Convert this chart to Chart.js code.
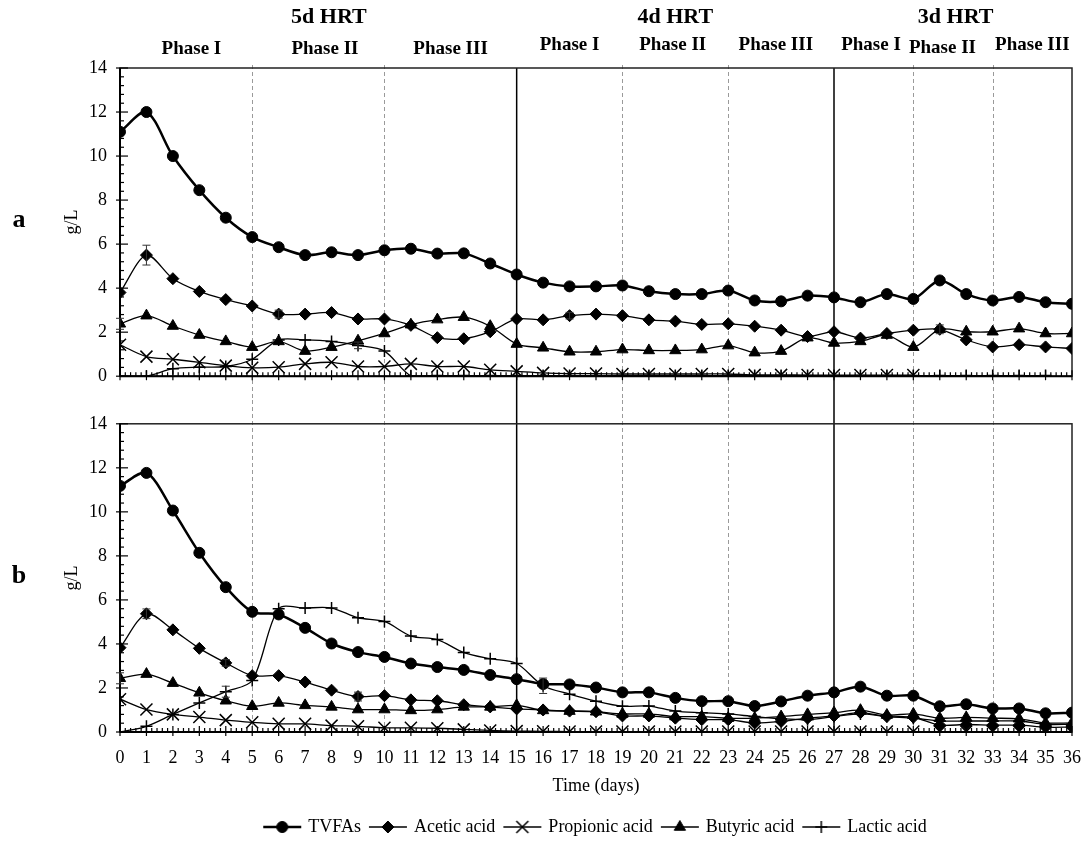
<!DOCTYPE html>
<html>
<head>
<meta charset="utf-8">
<script src="https://cdn.jsdelivr.net/npm/chart.js@4.4.1/dist/chart.umd.min.js"></script>
<style>
  body { margin: 0; background: #fff; }
  #wrap { position: relative; width: 1088px; height: 841px; background: #fff; }
  #chartA { position: absolute; left: 0; top: 0; }
  #chartB { position: absolute; left: 0; top: 400px; }
</style>
</head>
<body>
<div id="wrap">
  <canvas id="chartA" width="1088" height="400"></canvas>
  <canvas id="chartB" width="1088" height="441"></canvas>
</div>
<script>
// days of operation
const days = [0, 1, 2, 3, 4, 5, 6, 7, 8, 9, 10, 11, 12, 13, 14, 15, 16, 17, 18,
              19, 20, 21, 22, 23, 24, 25, 26, 27, 28, 29, 30, 31, 32, 33, 34, 35, 36];

const names = ['TVFAs', 'Acetic acid', 'Propionic acid', 'Butyric acid', 'Lactic acid'];

// panel a (g/L)
const tvfaA = [11.1, 12.0, 10.0, 8.45, 7.2, 6.32, 5.86, 5.5, 5.63, 5.5, 5.72, 5.79, 5.57, 5.58, 5.12, 4.62, 4.25, 4.08, 4.08,
               4.12, 3.86, 3.73, 3.73, 3.89, 3.44, 3.4, 3.66, 3.58, 3.36, 3.73, 3.51, 4.35, 3.73, 3.44, 3.6, 3.36, 3.29];
const aceticA = [3.8, 5.5, 4.43, 3.85, 3.48, 3.19, 2.82, 2.82, 2.89, 2.6, 2.6, 2.31, 1.75, 1.7, 2.02, 2.6, 2.56, 2.75, 2.82,
                 2.75, 2.56, 2.5, 2.35, 2.38, 2.27, 2.09, 1.8, 2.02, 1.73, 1.94, 2.09, 2.13, 1.65, 1.33, 1.43, 1.33, 1.26];
const propA = [1.43, 0.89, 0.77, 0.63, 0.48, 0.38, 0.41, 0.56, 0.63, 0.44, 0.44, 0.56, 0.44, 0.44, 0.29, 0.22, 0.15, 0.12, 0.12,
               0.1, 0.1, 0.1, 0.1, 0.1, 0.06, 0.06, 0.05, 0.05, 0.05, 0.05, 0.05, null, null, null, null, null, null];
const butyA = [2.38, 2.75, 2.28, 1.87, 1.58, 1.32, 1.58, 1.14, 1.32, 1.61, 1.94, 2.34, 2.57, 2.68, 2.27, 1.46, 1.29, 1.11, 1.11,
               1.21, 1.17, 1.17, 1.21, 1.39, 1.07, 1.14, 1.75, 1.51, 1.58, 1.87, 1.32, 2.13, 2.02, 2.02, 2.16, 1.94, 1.94];
const lacA = [0, 0, 0.34, 0.41, 0.44, 0.77, 1.65, 1.65, 1.58, 1.4, 1.14, 0.02, 0.03, 0.03, 0.03, 0.03, 0.03, 0.03, 0.03,
              0.03, 0.03, 0.03, 0.03, 0.03, 0.03, 0.03, 0.03, 0.03, 0.03, 0.03, 0.03, 0.03, 0.03, 0.03, 0.03, 0.03, null];

// panel b (g/L)
const tvfaB = [11.18, 11.77, 10.06, 8.14, 6.58, 5.46, 5.34, 4.73, 4.02, 3.63, 3.41, 3.11, 2.95, 2.82, 2.59, 2.4, 2.18, 2.16, 2.02,
               1.8, 1.8, 1.55, 1.4, 1.4, 1.18, 1.39, 1.65, 1.8, 2.06, 1.65, 1.65, 1.17, 1.26, 1.07, 1.07, 0.85, 0.88];
const aceticB = [3.83, 5.37, 4.64, 3.8, 3.14, 2.56, 2.56, 2.27, 1.9, 1.61, 1.65, 1.46, 1.42, 1.24, 1.14, 1.05, 1.0, 0.95, 0.92,
                 0.73, 0.73, 0.63, 0.56, 0.56, 0.41, 0.48, 0.63, 0.73, 0.88, 0.7, 0.67, 0.31, 0.34, 0.31, 0.31, 0.22, 0.22];
const propB = [1.49, 1.02, 0.8, 0.68, 0.54, 0.44, 0.37, 0.37, 0.29, 0.26, 0.19, 0.19, 0.17, 0.12, 0.07, 0.04, 0.03, 0.02, 0.02,
               0.02, 0.02, 0.02, 0.02, 0.02, 0.02, 0.02, 0.02, 0.02, 0.02, 0.02, 0.02, 0.02, 0.02, 0.02, 0.02, 0.02, 0.02];
const butyB = [2.44, 2.63, 2.22, 1.78, 1.42, 1.17, 1.32, 1.21, 1.14, 1.02, 1.02, 0.98, 1.02, 1.14, 1.14, 1.21, 0.98, 0.95, 0.92,
               0.82, 0.82, 0.7, 0.7, 0.63, 0.63, 0.7, 0.8, 0.88, 0.99, 0.77, 0.82, 0.63, 0.66, 0.63, 0.6, 0.41, 0.41];
const lacB = [0, 0.26, 0.8, 1.32, 1.83, 2.34, 5.6, 5.63, 5.63, 5.19, 5.02, 4.36, 4.2, 3.61, 3.33, 3.11, 2.1, 1.72, 1.4,
              1.17, 1.18, 0.95, 0.88, 0.82, 0.7, 0.6, 0.56, 0.7, 0.82, 0.7, 0.63, 0.5, 0.5, 0.5, 0.5, 0.35, 0.35];

// error bars: [series index, day, +/- g/L]
const errA = [[1, 1, 0.45], [1, 6, 0.18], [1, 17, 0.15], [3, 0, 0.25], [3, 31, 0.2], [4, 9, 0.15]];
const errB = [[1, 1, 0.22], [1, 9, 0.2], [1, 4, 0.15], [3, 0, 0.25], [4, 4, 0.25], [4, 16, 0.35]];

// phase boundaries and HRT changes
const phaseDays = [5, 10, 19, 23, 30, 33];
const hrtDays = [15, 27];
const hrtLabels = ['5d HRT', '4d HRT', '3d HRT'];
const hrtPos = [7.9, 21, 31.6];
const phaseLabels = ['Phase I', 'Phase II', 'Phase III', 'Phase I', 'Phase II', 'Phase III', 'Phase I', 'Phase II', 'Phase III'];
const phasePos = [2.7, 7.75, 12.5, 17, 20.9, 24.8, 28.4, 31.1, 34.5];

const FONT = "'Liberation Serif', 'Times New Roman', serif";
const styles = ['circle', 'rectRot', 'crossRot', 'triangle', 'cross'];
const radii = [5.5, 6, 8.5, 6.5, 6];
const widths = [2.5, 1.3, 1.3, 1.3, 1.3];

function makeSets(series) {
  return series.map((vals, i) => ({
    label: names[i],
    data: vals.map((v, k) => ({x: days[k], y: v})),
    borderColor: '#000',
    backgroundColor: '#000',
    borderWidth: widths[i],
    pointStyle: styles[i],
    pointRadius: radii[i],
    pointBorderWidth: (i === 2 || i === 4) ? 1.5 : 1,
    pointBorderColor: '#000',
    pointBackgroundColor: '#000',
    tension: 0.3,
    spanGaps: false
  }));
}

function makeGlyph(i) {
  const c = document.createElement('canvas');
  c.width = 44; c.height = 18;
  const g = c.getContext('2d');
  g.strokeStyle = '#000';
  g.lineWidth = widths[i];
  g.beginPath(); g.moveTo(3, 9); g.lineTo(41, 9); g.stroke();
  g.fillStyle = '#000';
  g.lineWidth = (i === 2 || i === 4) ? 1.5 : 1;
  Chart.helpers.drawPoint(g, {pointStyle: styles[i], radius: radii[i], borderWidth: g.lineWidth, rotation: 0}, 22, 9);
  return c;
}

const deco = {
  id: 'deco',
  beforeDatasetsDraw(chart, args, opts) {
    const {ctx, chartArea: a, scales: {x, y}} = chart;
    const isA = opts.panel === 'a';
    ctx.save();
    // dashed phase lines, through the gap between panels
    ctx.strokeStyle = '#9a9a9a';
    ctx.lineWidth = 1;
    ctx.setLineDash([4, 3]);
    phaseDays.forEach(d => {
      const px = Math.round(x.getPixelForValue(d)) + 0.5;
      ctx.beginPath();
      ctx.moveTo(px, isA ? a.top - 3 : 0);
      ctx.lineTo(px, isA ? chart.height : a.bottom);
      ctx.stroke();
    });
    ctx.setLineDash([]);
    ctx.strokeStyle = '#000';
    ctx.lineWidth = 1.5;
    hrtDays.forEach(d => {
      const px = x.getPixelForValue(d);
      ctx.beginPath();
      ctx.moveTo(px, isA ? a.top : 0);
      ctx.lineTo(px, isA ? chart.height : a.bottom);
      ctx.stroke();
    });
    // frame
    ctx.strokeStyle = '#222';
    ctx.lineWidth = 1.5;
    ctx.strokeRect(a.left, a.top, a.right - a.left, a.bottom - a.top);
    // y ticks
    ctx.strokeStyle = '#000';
    ctx.lineWidth = 1.2;
    for (let k = 0; k <= 35; k++) {
      const py = y.getPixelForValue(k * 0.4);
      ctx.beginPath();
      if (k % 5 === 0) { ctx.moveTo(a.left - 4, py); ctx.lineTo(a.left + 8, py); }
      else { ctx.moveTo(a.left, py); ctx.lineTo(a.left + 4, py); }
      ctx.stroke();
    }
    // x ticks
    for (let k = 0; k <= 180; k++) {
      const px = x.getPixelForValue(k * 0.2);
      ctx.beginPath();
      if (k % 5 === 0) { ctx.moveTo(px, a.bottom + 4); ctx.lineTo(px, a.bottom - 6); }
      else { ctx.moveTo(px, a.bottom); ctx.lineTo(px, a.bottom - 4); }
      ctx.stroke();
    }
    ctx.lineWidth = 2;
    ctx.beginPath(); ctx.moveTo(a.left, a.bottom); ctx.lineTo(a.right, a.bottom); ctx.stroke();
    ctx.beginPath(); ctx.moveTo(a.left, a.top); ctx.lineTo(a.left, a.bottom); ctx.stroke();
    ctx.restore();
  },
  afterDatasetsDraw(chart, args, opts) {
    const {ctx, scales: {x, y}} = chart;
    ctx.save();
    ctx.strokeStyle = '#333';
    ctx.lineWidth = 1;
    opts.errors.forEach(([si, day, e]) => {
      const v = chart.data.datasets[si].data[day].y;
      const px = x.getPixelForValue(day);
      const y1 = y.getPixelForValue(v + e), y2 = y.getPixelForValue(Math.max(0, v - e));
      ctx.beginPath();
      ctx.moveTo(px, y1); ctx.lineTo(px, y2);
      ctx.moveTo(px - 4, y1); ctx.lineTo(px + 4, y1);
      ctx.moveTo(px - 4, y2); ctx.lineTo(px + 4, y2);
      ctx.stroke();
    });
    ctx.restore();
  },
  afterDraw(chart, args, opts) {
    const {ctx, chartArea: a, scales: {x}} = chart;
    ctx.save();
    ctx.fillStyle = '#000';
    ctx.textAlign = 'center';
    ctx.textBaseline = 'middle';
    ctx.font = 'bold 26px ' + FONT;
    ctx.fillText(opts.panel, 19, (a.top + a.bottom) / 2 - 2);
    if (opts.panel === 'a') {
      ctx.font = 'bold 22px ' + FONT;
      hrtLabels.forEach((t, i) => ctx.fillText(t, x.getPixelForValue(hrtPos[i]), 17));
      ctx.font = 'bold 19px ' + FONT;
      phaseLabels.forEach((t, i) => {
        const py = i < 3 ? 49 : (i === 7 ? 48 : 45);
        ctx.fillText(t, x.getPixelForValue(phasePos[i]), py);
      });
    }
    ctx.restore();
  }
};

function makeChart(id, series, panel, errors) {
  const isB = panel === 'b';
  return new Chart(document.getElementById(id), {
    type: 'line',
    data: {datasets: makeSets(series)},
    plugins: [deco],
    options: {
      responsive: false,
      animation: false,
      layout: {padding: {top: isB ? 13 : 68, right: 16, bottom: isB ? -5 : 0, left: 0}},
      scales: {
        x: {
          type: 'linear', min: 0, max: 36,
          grid: {display: false, drawTicks: false},
          border: {display: false},
          ticks: {display: isB, stepSize: 1, autoSkip: false, maxRotation: 0, padding: 15, color: '#000',
                  font: {family: FONT, size: 18}},
          title: {display: isB, text: 'Time (days)', color: '#000', font: {family: FONT, size: 18},
                  padding: {top: 0, bottom: 11}},
          afterFit: s => { s.height = isB ? 76 : 12; s.paddingLeft = 0; s.paddingRight = 0; }
        },
        y: {
          min: 0, max: 14,
          grid: {display: false, drawTicks: false},
          border: {display: false},
          ticks: {stepSize: 2, padding: 13, color: '#000', font: {family: FONT, size: 18}},
          title: {display: true, text: 'g/L', color: '#000', font: {family: FONT, size: 18},
                  padding: {top: 61, bottom: 0}},
          afterFit: s => { s.width = 120; }
        }
      },
      plugins: {
        legend: {
          display: isB, position: 'bottom', fullSize: false,
          labels: {
            usePointStyle: true, pointStyleWidth: 34, padding: 10, color: '#000',
            font: {family: FONT, size: 18},
            generateLabels: () => names.map((n, i) => ({
              text: n, pointStyle: makeGlyph(i), fontColor: '#000',
              fillStyle: 'transparent', strokeStyle: 'transparent', lineWidth: 0, hidden: false, datasetIndex: i
            }))
          }
        },
        tooltip: {enabled: false},
        deco: {panel, errors}
      }
    }
  });
}

makeChart('chartA', [tvfaA, aceticA, propA, butyA, lacA], 'a', errA);
makeChart('chartB', [tvfaB, aceticB, propB, butyB, lacB], 'b', errB);
</script>
</body>
</html>
